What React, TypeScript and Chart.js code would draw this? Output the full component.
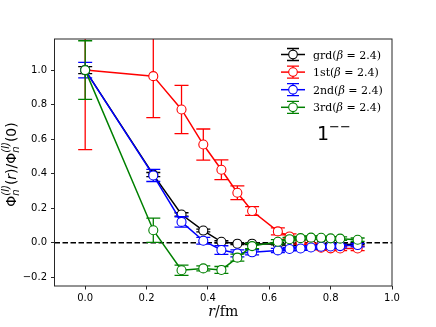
import React, { useEffect, useRef } from "react";
import { Chart, registerables } from "chart.js";

Chart.register(...registerables);

const rValues = [0, 0.222, 0.314, 0.385, 0.444, 0.496, 0.544, 0.628, 0.666, 0.702, 0.736, 0.769, 0.8, 0.831, 0.888];

const grdValues = [1.0, 0.395, 0.164, 0.071, 0.006, -0.005, -0.005, -0.008, -0.009, -0.01, -0.01, -0.01, -0.01, -0.01, -0.008];
const grdErrors = [0.02, 0.012, 0.01, 0.008, 0.006, 0.005, 0.005, 0.004, 0.004, 0.004, 0.004, 0.004, 0.004, 0.004, 0.004];

const firstValues = [1.0, 0.965, 0.772, 0.569, 0.423, 0.29, 0.184, 0.066, 0.037, 0.005, -0.015, -0.028, -0.032, -0.033, -0.033];
const firstErrors = [0.46, 0.24, 0.14, 0.09, 0.057, 0.04, 0.025, 0.02, 0.015, 0.012, 0.012, 0.012, 0.012, 0.012, 0.012];

const secondValues = [1.0, 0.39, 0.121, 0.012, -0.042, -0.061, -0.055, -0.044, -0.036, -0.033, -0.027, -0.023, -0.021, -0.019, -0.013];
const secondErrors = [0.045, 0.035, 0.03, 0.02, 0.025, 0.02, 0.015, 0.012, 0.01, 0.01, 0.01, 0.01, 0.01, 0.01, 0.01];

const thirdValues = [1.0, 0.073, -0.159, -0.148, -0.157, -0.086, -0.019, 0.006, 0.021, 0.027, 0.03, 0.029, 0.026, 0.024, 0.018];
const thirdErrors = [0.17, 0.07, 0.03, 0.015, 0.02, 0.02, 0.015, 0.012, 0.01, 0.01, 0.01, 0.01, 0.01, 0.01, 0.01];

const seriesNames = ["grd", "1st", "2nd", "3rd"];
const seriesColors = ["#000000", "#ff0000", "#0000ff", "#008000"];
const betaLabel = "2.4";
const stateLabel = "1";

const xTicks = [0, 0.2, 0.4, 0.6, 0.8, 1.0];
const yTicks = [-0.2, 0, 0.2, 0.4, 0.6, 0.8, 1.0];

const SERIF = "'DejaVu Serif'";
const SANS = "'DejaVu Sans'";

type Seg = { t: string; font: string; dy?: number; stack?: boolean };

function drawSegs(ctx: CanvasRenderingContext2D, segs: Seg[], x0: number, y0: number, align: "left" | "center") {
  let x = 0;
  let prevStart = 0;
  let prevW = 0;
  const pos: number[] = [];
  segs.forEach((s) => {
    ctx.font = s.font;
    const w = ctx.measureText(s.t).width;
    if (s.stack) {
      pos.push(prevStart);
      const adv = Math.max(prevW, w);
      x = prevStart + adv;
      prevW = adv;
    } else {
      pos.push(x);
      prevStart = x;
      prevW = w;
      x += w;
    }
  });
  const start = align === "center" ? x0 - x / 2 : x0;
  segs.forEach((s, i) => {
    ctx.font = s.font;
    ctx.fillText(s.t, start + pos[i], y0 + (s.dy || 0));
  });
}

const errorBarPlugin = {
  id: "errorBars",
  beforeDatasetDraw(chart: any, args: any) {
    const ds = chart.data.datasets[args.index];
    const errs: number[] = ds.errors;
    if (!errs) return;
    const { ctx, chartArea, scales } = chart;
    ctx.save();
    ctx.beginPath();
    ctx.rect(chartArea.left, chartArea.top, chartArea.right - chartArea.left, chartArea.bottom - chartArea.top);
    ctx.clip();
    ctx.strokeStyle = ds.borderColor;
    ctx.lineWidth = 1.3;
    args.meta.data.forEach((pt: any, i: number) => {
      const v = ds.data[i].y;
      const e = errs[i];
      const x = pt.x;
      const yt = scales.y.getPixelForValue(v + e);
      const yb = scales.y.getPixelForValue(v - e);
      ctx.beginPath();
      ctx.moveTo(x, yt);
      ctx.lineTo(x, yb);
      ctx.moveTo(x - 7, yt);
      ctx.lineTo(x + 7, yt);
      ctx.moveTo(x - 7, yb);
      ctx.lineTo(x + 7, yb);
      ctx.stroke();
    });
    ctx.restore();
  },
};

const decorPlugin = {
  id: "decor",
  beforeDatasetsDraw(chart: any) {
    const { ctx, chartArea, scales } = chart;
    const y0 = scales.y.getPixelForValue(0);
    ctx.save();
    ctx.strokeStyle = "#000";
    ctx.lineWidth = 1.5;
    ctx.setLineDash([5.5, 2.5]);
    ctx.beginPath();
    ctx.moveTo(chartArea.left, y0);
    ctx.lineTo(chartArea.right, y0);
    ctx.stroke();
    ctx.restore();
  },
  afterDraw(chart: any) {
    const { ctx, chartArea } = chart;
    ctx.save();
    // frame
    ctx.strokeStyle = "#262626";
    ctx.lineWidth = 1;
    ctx.strokeRect(chartArea.left, chartArea.top, chartArea.right - chartArea.left, chartArea.bottom - chartArea.top);

    ctx.fillStyle = "#000";
    ctx.textBaseline = "alphabetic";

    // x label
    drawSegs(
      ctx,
      [
        { t: "r", font: `italic 14px ${SERIF}` },
        { t: "/fm", font: `14px ${SERIF}` },
      ],
      (chartArea.left + chartArea.right) / 2,
      316,
      "center"
    );

    // y label
    ctx.save();
    ctx.translate(16, (chartArea.top + chartArea.bottom) / 2 + 2);
    ctx.rotate(-Math.PI / 2);
    const big = `14px ${SANS}`;
    const small = `10px ${SANS}`;
    const smallIt = `italic 10px ${SANS}`;
    drawSegs(
      ctx,
      [
        { t: "Φ", font: big },
        { t: "n", font: smallIt, dy: 3 },
        { t: "(l)", font: smallIt, dy: -7, stack: true },
        { t: "(", font: big },
        { t: "r", font: `italic 14px ${SANS}` },
        { t: ")/Φ", font: big },
        { t: "n", font: smallIt, dy: 3 },
        { t: "(l)", font: smallIt, dy: -7, stack: true },
        { t: "(0)", font: big },
      ],
      0,
      0,
      "center"
    );
    ctx.restore();

    // legend
    const lx = 281;
    const lw = 24;
    for (let i = 0; i < seriesNames.length; i++) {
      const y = 54.5 + i * 17.6;
      const c = seriesColors[i];
      ctx.strokeStyle = c;
      ctx.lineWidth = 1.5;
      ctx.beginPath();
      ctx.moveTo(lx, y);
      ctx.lineTo(lx + lw, y);
      ctx.stroke();
      const cx = lx + lw / 2;
      ctx.lineWidth = 1.3;
      ctx.beginPath();
      ctx.moveTo(cx, y - 6);
      ctx.lineTo(cx, y + 6);
      ctx.moveTo(cx - 6, y - 6);
      ctx.lineTo(cx + 6, y - 6);
      ctx.moveTo(cx - 6, y + 6);
      ctx.lineTo(cx + 6, y + 6);
      ctx.stroke();
      ctx.beginPath();
      ctx.arc(cx, y, 4.3, 0, Math.PI * 2);
      ctx.fillStyle = "#fff";
      ctx.fill();
      ctx.lineWidth = 1.1;
      ctx.stroke();
      ctx.fillStyle = "#000";
      drawSegs(
        ctx,
        [
          { t: seriesNames[i] + "(", font: `11px ${SERIF}` },
          { t: "β", font: `italic 11px ${SERIF}` },
          { t: " = " + betaLabel + ")", font: `11px ${SERIF}` },
        ],
        313,
        y + 4,
        "left"
      );
    }

    // state label
    drawSegs(
      ctx,
      [
        { t: stateLabel, font: `19px ${SANS}` },
        { t: "−−", font: `13px ${SANS}`, dy: -9 },
      ],
      317,
      140,
      "left"
    );
    ctx.restore();
  },
};

export default function App() {
  const ref = useRef<HTMLCanvasElement>(null);
  useEffect(() => {
    if (!ref.current) return;
    const mk = (vals: number[]) => vals.map((y, i) => ({ x: rValues[i], y }));
    const allValues = [grdValues, firstValues, secondValues, thirdValues];
    const allErrors = [grdErrors, firstErrors, secondErrors, thirdErrors];
    const datasets: any[] = seriesNames.map((name, i) => ({
      label: name,
      data: mk(allValues[i]),
      errors: allErrors[i],
      borderColor: seriesColors[i],
      backgroundColor: "#ffffff",
      pointBackgroundColor: "#ffffff",
      pointBorderColor: seriesColors[i],
      pointRadius: 4.5,
      pointBorderWidth: 1.1,
      borderWidth: 1.5,
      showLine: true,
      fill: false,
      tension: 0,
      order: seriesNames.length - i,
    }));
    const chart = new Chart(ref.current, {
      type: "scatter",
      data: { datasets },
      plugins: [errorBarPlugin, decorPlugin],
      options: {
        animation: false,
        responsive: false,
        events: [],
        layout: { padding: { top: 39, right: 44, left: 0, bottom: 0 } },
        plugins: { legend: { display: false }, tooltip: { enabled: false } },
        scales: {
          x: {
            type: "linear",
            min: -0.1,
            max: 1.0,
            afterFit: (s: any) => {
              s.height = 41;
            },
            afterBuildTicks: (s: any) => {
              s.ticks = xTicks.map((v) => ({ value: v }));
            },
            ticks: {
              color: "#000",
              font: { family: "DejaVu Sans", size: 10 },
              padding: 3,
              maxRotation: 0,
              callback: (v: any) => (v < 0 ? "−" : "") + Math.abs(Number(v)).toFixed(1),
            },
            grid: { display: true, drawOnChartArea: false, tickLength: 3.5, color: "#262626" },
            border: { display: false },
          },
          y: {
            type: "linear",
            min: -0.25,
            max: 1.18,
            afterFit: (s: any) => {
              s.width = 54.5;
            },
            afterBuildTicks: (s: any) => {
              s.ticks = yTicks.map((v) => ({ value: v }));
            },
            ticks: {
              color: "#000",
              font: { family: "DejaVu Sans", size: 10 },
              padding: 4,
              callback: (v: any) => (v < -1e-9 ? "−" : "") + Math.abs(Number(v)).toFixed(1),
            },
            grid: { display: true, drawOnChartArea: false, tickLength: 3.5, color: "#262626" },
            border: { display: false },
          },
        },
      },
    });
    return () => chart.destroy();
  }, []);
  return (
    <div style={{ position: "absolute", left: 0, top: 0, width: 436, height: 327, background: "#fff" }}>
      <canvas ref={ref} width={436} height={327} style={{ width: 436, height: 327 }} />
    </div>
  );
}
